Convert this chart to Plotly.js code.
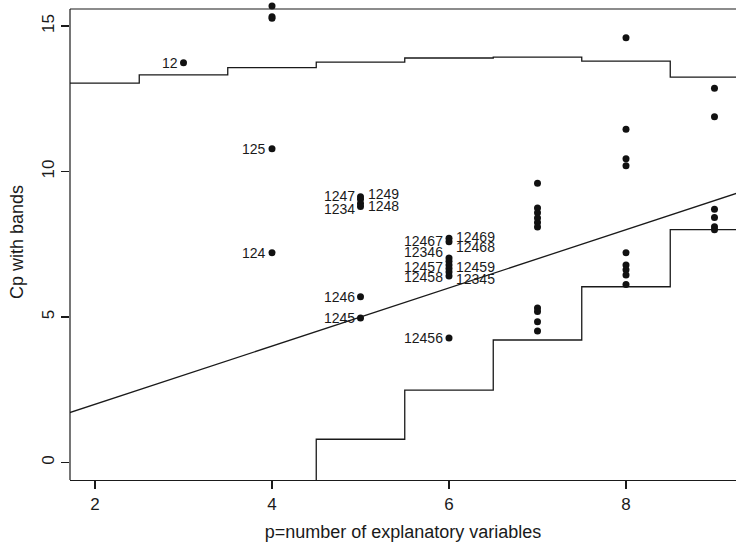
<!DOCTYPE html>
<html>
<head>
<meta charset="utf-8">
<script src="https://cdn.plot.ly/plotly-3.0.1.min.js"></script>
<style>html,body{margin:0;padding:0;background:#fff;}#chart{width:736px;height:543px;}</style>
</head>
<body>
<div id="chart"></div>
<script>
// ---- data ----
// candidate models: p (number of explanatory variables) and Cp
const pointP  = [3,
  4, 4, 4, 4, 4,
  5, 5, 5, 5, 5, 5,
  6, 6, 6, 6, 6, 6, 6, 6, 6,
  7, 7, 7, 7, 7, 7, 7, 7, 7, 7,
  8, 8, 8, 8, 8, 8, 8, 8, 8,
  9, 9, 9, 9, 9, 9];
const pointCp = [13.74,
  15.69, 15.32, 15.27, 10.78, 7.21,
  9.13, 9.05, 8.90, 8.80, 5.70, 4.97,
  7.71, 7.59, 7.03, 6.92, 6.79, 6.67, 6.55, 6.41, 4.28,
  9.60, 8.75, 8.58, 8.40, 8.25, 8.09, 5.31, 5.19, 4.84, 4.52,
  14.60, 11.45, 10.44, 10.20, 7.21, 6.79, 6.62, 6.44, 6.12,
  12.86, 11.88, 8.70, 8.42, 8.10, 8.00];
const pointLabel = ["12",
  "", "", "", "125", "124",
  "1249", "1247", "1248", "1234", "1246", "1245",
  "12469", "12467", "12468", "12346", "12457", "12459", "12458", "12345", "12456",
  "", "", "", "", "", "", "", "", "", "",
  "", "", "", "", "", "", "", "", "",
  "", "", "", "", "", ""];
const labelSide = ["L",
  "", "", "", "L", "L",
  "R", "L", "R", "L", "L", "L",
  "R", "L", "R", "L", "L", "R", "L", "R", "L",
  "", "", "", "", "", "", "", "", "", "",
  "", "", "", "", "", "", "", "", "",
  "", "", "", "", "", ""];

// step bands (value holds from each p to the next)
const upperBandP  = [1.5, 2.5, 3.5, 4.5, 5.5, 6.5, 7.5, 8.5, 9.5];
const upperBandCp = [13.04, 13.32, 13.57, 13.76, 13.90, 13.93, 13.79, 13.24, 13.24];
const lowerBandP  = [4.5, 4.5, 5.5, 6.5, 7.5, 8.5, 9.5];
const lowerBandCp = [-5, 0.80, 2.49, 4.21, 6.04, 8.00, 8.00];

// reference line Cp = p
const refLineP  = [0, 10];
const refLineCp = [0, 10];

const xTickVals = [2, 4, 6, 8];
const xTickText = ["2", "4", "6", "8"];
const yTickVals = [0, 5, 10, 15];
const yTickText = ["0", "5", "10", "15"];

// ---- layout constants ----
const X_RANGE = [1.7175, 9.243];
const Y_BOX = [-0.601, 15.584];   // framed region
const Y_RANGE = [-0.601, 15.756]; // a little head-room so the top points are not culled

// label vertical nudges (pixels, up positive) to avoid overlap
const labelNudge = {"1249": 2.8, "1247": 3.1, "1248": -2.2, "1234": -2.3,
  "12469": 1.4, "12467": 1, "12468": 10.6, "12346": 8.8, "12457": -1.8,
  "12459": 1.1, "12458": -4.8, "12345": -2.7};

const FONT = "Liberation Sans, Arial, Helvetica, sans-serif";
const INK = "#1a1a1a";

const traces = [
  {x: upperBandP, y: upperBandCp, mode: "lines", line: {shape: "hv", color: INK, width: 1.3}, hoverinfo: "skip"},
  {x: lowerBandP, y: lowerBandCp, mode: "lines", line: {shape: "hv", color: INK, width: 1.3}, hoverinfo: "skip"},
  {x: refLineP, y: refLineCp, mode: "lines", line: {color: INK, width: 1.3}, hoverinfo: "skip"},
  {x: pointP, y: pointCp, mode: "markers", marker: {size: 7, color: "#111"}, cliponaxis: false}
];

const annotations = [];
pointLabel.forEach((lab, i) => {
  if (!lab) return;
  const left = labelSide[i] === "L";
  annotations.push({
    x: pointP[i], y: pointCp[i], text: lab, showarrow: false,
    xanchor: left ? "right" : "left", yanchor: "middle",
    xshift: left ? -5 : 6, yshift: labelNudge[lab] || 0,
    font: {family: FONT, size: 14, color: INK}, borderpad: 0
  });
});

const axisCommon = {
  showgrid: false, zeroline: false, linecolor: INK, linewidth: 1.2,
  ticks: "outside", ticklen: 8, tickwidth: 1.2, tickcolor: INK,
  tickfont: {family: FONT, size: 17, color: INK}, tickmode: "array"
};

const layout = {
  width: 736, height: 543,
  margin: {l: 70, r: 0, t: 4, b: 63},
  paper_bgcolor: "#fff", plot_bgcolor: "#fff",
  showlegend: false,
  xaxis: Object.assign({}, axisCommon, {
    range: X_RANGE, tickvals: xTickVals, ticktext: xTickText, showline: true,
    title: {text: "p=number of explanatory variables", font: {family: FONT, size: 18, color: INK}, standoff: 12}
  }),
  yaxis: Object.assign({}, axisCommon, {
    range: Y_RANGE, tickvals: yTickVals, ticktext: yTickText, tickangle: -90, showline: false,
    title: {text: "Cp with bands", font: {family: FONT, size: 18, color: INK}, standoff: 10}
  }),
  shapes: [
    {type: "line", xref: "paper", yref: "y", x0: 0, x1: 1, y0: Y_BOX[1], y1: Y_BOX[1], line: {color: INK, width: 1.2}},
    {type: "line", xref: "paper", yref: "y", x0: 0, x1: 0, y0: Y_BOX[0], y1: Y_BOX[1], line: {color: INK, width: 1.2}}
  ],
  annotations: annotations
};

Plotly.newPlot("chart", traces, layout, {displayModeBar: false, staticPlot: true});
</script>
</body>
</html>
